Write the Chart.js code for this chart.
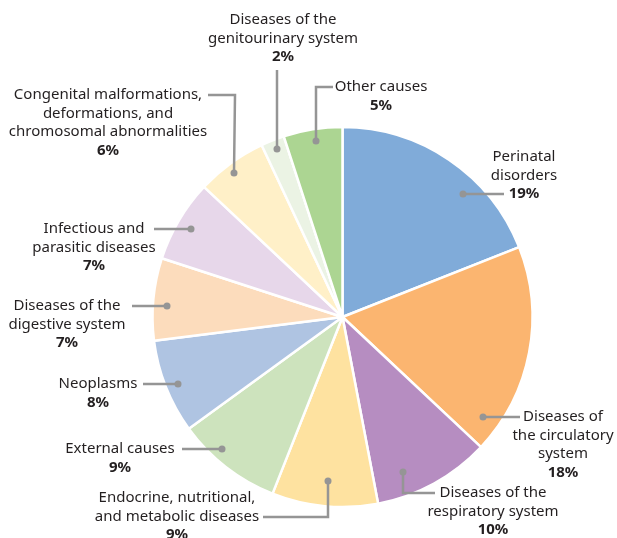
<!DOCTYPE html>
<html>
<head>
<meta charset="utf-8">
<script src="https://cdn.jsdelivr.net/npm/chart.js@4"></script>
<style>
  html, body { margin: 0; padding: 0; background: #fff; }
  #wrap { width: 617px; height: 538px; position: relative; }
</style>
</head>
<body>
<div id="wrap"><canvas id="pieChart" width="617" height="538"></canvas></div>
<script>
// categories, clockwise from 12 o'clock
const categories = [
  "Perinatal disorders",
  "Diseases of the circulatory system",
  "Diseases of the respiratory system",
  "Endocrine, nutritional, and metabolic diseases",
  "External causes",
  "Neoplasms",
  "Diseases of the digestive system",
  "Infectious and parasitic diseases",
  "Congenital malformations, deformations, and chromosomal abnormalities",
  "Diseases of the genitourinary system",
  "Other causes"
];
const shares = [19, 18, 10, 9, 9, 8, 7, 7, 6, 2, 5];
// wrapped label lines as printed
const labelLines = [
  ["Perinatal", "disorders"],
  ["Diseases of", "the circulatory", "system"],
  ["Diseases of the", "respiratory system"],
  ["Endocrine, nutritional,", "and metabolic diseases"],
  ["External causes"],
  ["Neoplasms"],
  ["Diseases of the", "digestive system"],
  ["Infectious and", "parasitic diseases"],
  ["Congenital malformations,", "deformations, and", "chromosomal abnormalities"],
  ["Diseases of the", "genitourinary system"],
  ["Other causes"]
];
const sliceColors = [
  "#80abd9", "#fbb570", "#b68dc1", "#fee2a0", "#cde3bd", "#afc4e2",
  "#fcdcbc", "#e7d7ea", "#fff0c8", "#ebf3e4", "#acd592"
];

/* ===========================
   LABEL LAYOUT (pixels)
=========================== */
// text block centre (x, first line y) and leader path starting at the dot
const labelLayout = [
  { x: 524, y: 157, path: [[463, 194], [504, 194]] },
  { x: 563, y: 417, path: [[483, 417], [520, 417]] },
  { x: 493, y: 493, path: [[403, 472], [403, 493], [435, 493]] },
  { x: 177, y: 498, path: [[328, 481], [328, 517], [263, 517]] },
  { x: 120, y: 449, path: [[222, 449], [182, 449]] },
  { x: 98,  y: 384, path: [[178, 384], [143, 384]] },
  { x: 67,  y: 306, path: [[167, 306], [132, 306]] },
  { x: 94,  y: 229, path: [[191, 229], [154, 229]] },
  { x: 108, y: 95,  path: [[234, 173], [235, 95], [208, 95]] },
  { x: 283, y: 20,  path: [[277, 149], [277, 70]] },
  { x: 381, y: 87,  path: [[316, 141], [316, 87], [333, 87]] }
];

const LINE_H = 18.5;
const FONT = '"Noto Sans", "Open Sans", sans-serif';

const calloutPlugin = {
  id: "callouts",
  afterDraw(chart) {
    const ctx = chart.ctx;
    ctx.save();
    labelLayout.forEach((lay, i) => {
      // leader line
      ctx.strokeStyle = "#959595";
      ctx.lineWidth = 2.5;
      ctx.lineJoin = "miter";
      ctx.beginPath();
      lay.path.forEach(([px, py], k) => {
        if (k === 0) ctx.moveTo(px, py); else ctx.lineTo(px, py);
      });
      ctx.stroke();
      ctx.fillStyle = "#959595";
      ctx.beginPath();
      ctx.arc(lay.path[0][0], lay.path[0][1], 3.5, 0, Math.PI * 2);
      ctx.fill();

      // text
      ctx.fillStyle = "#231f20";
      ctx.textAlign = "center";
      ctx.textBaseline = "middle";
      ctx.font = `15px ${FONT}`;
      const lines = labelLines[i];
      lines.forEach((t, k) => ctx.fillText(t, lay.x, lay.y + k * LINE_H));
      ctx.font = `bold 15px ${FONT}`;
      ctx.fillText(`${shares[i]}%`, lay.x, lay.y + lines.length * LINE_H);
    });
    ctx.restore();
  }
};

new Chart(document.getElementById("pieChart"), {
  type: "pie",
  data: {
    labels: categories,
    datasets: [{
      data: shares,
      backgroundColor: sliceColors,
      borderColor: "#ffffff",
      borderWidth: 2.5
    }]
  },
  options: {
    responsive: false,
    animation: false,
    radius: 190,
    layout: { padding: { left: 150, right: 82, top: 122, bottom: 26 } },
    plugins: {
      legend: { display: false },
      tooltip: { enabled: false }
    }
  },
  plugins: [calloutPlugin]
});
</script>
</body>
</html>
